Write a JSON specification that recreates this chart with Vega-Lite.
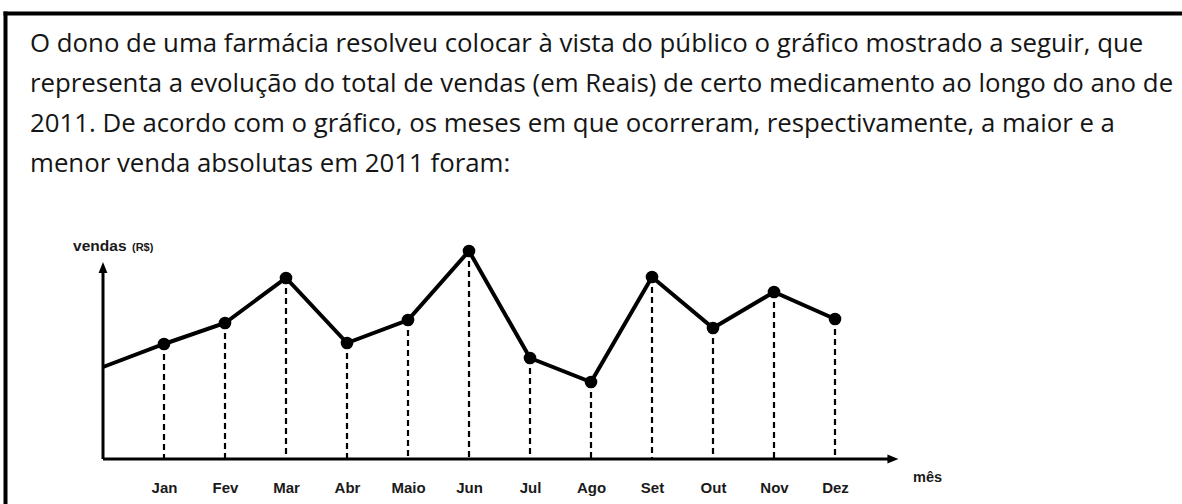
{
  "$schema": "https://vega.github.io/schema/vega-lite/v6.json",
  "width": 1177,
  "height": 491,
  "autosize": {"type": "none"},
  "padding": {"left": 5, "top": 13, "right": 0, "bottom": 0},
  "background": "white",
  "config": {"view": {"stroke": null}},
  "title": {
    "text": [
      "O dono de uma farmácia resolveu colocar à vista do público o gráfico mostrado a seguir, que",
      "representa a evolução do total de vendas (em Reais) de certo medicamento ao longo do ano de",
      "2011. De acordo com o gráfico, os meses em que ocorreram, respectivamente, a maior e a",
      "menor venda absolutas em 2011 foram:"
    ],
    "anchor": "start",
    "frame": "group",
    "orient": "top",
    "font": "Open Sans",
    "fontSize": 25.8,
    "fontWeight": 500,
    "color": "#151515",
    "lineHeight": 40,
    "baseline": "alphabetic",
    "offset": 0,
    "dx": 25,
    "dy": 185
  },
  "data": {
    "values": [
      {"mes": 0, "label": "", "vendas": 92},
      {"mes": 1, "label": "Jan", "vendas": 115},
      {"mes": 2, "label": "Fev", "vendas": 136},
      {"mes": 3, "label": "Mar", "vendas": 181},
      {"mes": 4, "label": "Abr", "vendas": 116},
      {"mes": 5, "label": "Maio", "vendas": 139},
      {"mes": 6, "label": "Jun", "vendas": 208},
      {"mes": 7, "label": "Jul", "vendas": 101},
      {"mes": 8, "label": "Ago", "vendas": 77},
      {"mes": 9, "label": "Set", "vendas": 182},
      {"mes": 10, "label": "Out", "vendas": 131},
      {"mes": 11, "label": "Nov", "vendas": 167},
      {"mes": 12, "label": "Dez", "vendas": 140}
    ]
  },
  "resolve": {"axis": {"x": "independent", "y": "independent"}},
  "layer": [
    {
      "transform": [{"filter": "datum.mes >= 1"}],
      "mark": {"type": "rule", "color": "black", "strokeWidth": 2.2, "strokeDash": [6, 4]},
      "encoding": {
        "x": {"field": "mes", "type": "quantitative", "scale": {"domain": [-1.6066, 17.6885], "nice": false, "zero": false}, "axis": null},
        "y": {"field": "vendas", "type": "quantitative", "scale": {"domain": [-45, 446], "nice": false, "zero": false}, "axis": null},
        "y2": {"datum": 0}
      }
    },
    {
      "data": {"values": [{}]},
      "mark": {"type": "rule", "color": "black", "strokeWidth": 3},
      "encoding": {
        "x": {"datum": 0, "type": "quantitative", "scale": {"domain": [-1.6066, 17.6885], "nice": false, "zero": false}, "axis": null},
        "x2": {"datum": 12.95},
        "y": {"datum": 0, "type": "quantitative", "scale": {"domain": [-45, 446], "nice": false, "zero": false}, "axis": null}
      }
    },
    {
      "data": {"values": [{}]},
      "mark": {"type": "rule", "color": "black", "strokeWidth": 3},
      "encoding": {
        "x": {"datum": 0, "type": "quantitative", "scale": {"domain": [-1.6066, 17.6885], "nice": false, "zero": false}, "axis": null},
        "y": {"datum": 0, "type": "quantitative", "scale": {"domain": [-45, 446], "nice": false, "zero": false}, "axis": null},
        "y2": {"datum": 191.5}
      }
    },
    {
      "data": {"values": [{}]},
      "mark": {"type": "point", "shape": "M1,0L-1,-0.8L-1,0.8Z", "filled": true, "color": "black", "opacity": 1, "size": 121},
      "encoding": {
        "x": {"datum": 12.95, "type": "quantitative", "scale": {"domain": [-1.6066, 17.6885], "nice": false, "zero": false}, "axis": null},
        "y": {"datum": 0, "type": "quantitative", "scale": {"domain": [-45, 446], "nice": false, "zero": false}, "axis": null}
      }
    },
    {
      "data": {"values": [{}]},
      "mark": {"type": "point", "shape": "M0,-1L0.8,1L-0.8,1Z", "filled": true, "color": "black", "opacity": 1, "size": 121},
      "encoding": {
        "x": {"datum": 0, "type": "quantitative", "scale": {"domain": [-1.6066, 17.6885], "nice": false, "zero": false}, "axis": null},
        "y": {"datum": 191.5, "type": "quantitative", "scale": {"domain": [-45, 446], "nice": false, "zero": false}, "axis": null}
      }
    },
    {
      "mark": {"type": "line", "color": "black", "strokeWidth": 4, "strokeJoin": "miter"},
      "encoding": {
        "x": {"field": "mes", "type": "quantitative", "scale": {"domain": [-1.6066, 17.6885], "nice": false, "zero": false},
              "axis": {"orient": "top", "domain": true, "domainColor": "black", "domainWidth": 4, "domainCap": "square", "ticks": false, "labels": false, "grid": false, "title": null}},
        "y": {"field": "vendas", "type": "quantitative", "scale": {"domain": [-45, 446], "nice": false, "zero": false},
              "axis": {"orient": "left", "domain": true, "domainColor": "black", "domainWidth": 4, "domainCap": "square", "ticks": false, "labels": false, "grid": false, "title": null}}
      }
    },
    {
      "transform": [{"filter": "datum.mes >= 1"}],
      "mark": {"type": "point", "shape": "circle", "filled": true, "color": "black", "opacity": 1, "size": 160},
      "encoding": {
        "x": {"field": "mes", "type": "quantitative", "scale": {"domain": [-1.6066, 17.6885], "nice": false, "zero": false},
              "axis": {"orient": "bottom", "offset": -45, "values": [1,2,3,4,5,6,7,8,9,10,11,12],
                       "labelExpr": "['','Jan','Fev','Mar','Abr','Maio','Jun','Jul','Ago','Set','Out','Nov','Dez'][datum.value]",
                       "domain": false, "ticks": false, "tickSize": 0, "grid": false, "title": null,
                       "labelFont": "Liberation Sans", "labelFontSize": 15, "labelFontWeight": "bold", "labelColor": "#1a1a1a",
                       "labelBaseline": "alphabetic", "labelPadding": 33, "labelFlush": false, "labelOverlap": false}},
        "y": {"field": "vendas", "type": "quantitative", "scale": {"domain": [-45, 446], "nice": false, "zero": false}, "axis": null}
      }
    },
    {
      "data": {"values": [{}]},
      "mark": {"type": "text", "align": "left", "baseline": "alphabetic", "font": "Liberation Sans", "fontSize": 15.5, "fontWeight": "bold", "color": "#1a1a1a", "text": "vendas"},
      "encoding": {
        "x": {"datum": -0.49, "type": "quantitative", "scale": {"domain": [-1.6066, 17.6885], "nice": false, "zero": false}, "axis": null},
        "y": {"datum": 208, "type": "quantitative", "scale": {"domain": [-45, 446], "nice": false, "zero": false}, "axis": null}
      }
    },
    {
      "data": {"values": [{}]},
      "mark": {"type": "text", "align": "left", "baseline": "alphabetic", "font": "Liberation Sans", "fontSize": 11, "fontWeight": "bold", "color": "#1a1a1a", "text": "(R$)"},
      "encoding": {
        "x": {"datum": 0.475, "type": "quantitative", "scale": {"domain": [-1.6066, 17.6885], "nice": false, "zero": false}, "axis": null},
        "y": {"datum": 208, "type": "quantitative", "scale": {"domain": [-45, 446], "nice": false, "zero": false}, "axis": null}
      }
    },
    {
      "data": {"values": [{}]},
      "mark": {"type": "text", "align": "left", "baseline": "alphabetic", "font": "Liberation Sans", "fontSize": 14.5, "fontWeight": "bold", "color": "#1a1a1a", "text": "mês"},
      "encoding": {
        "x": {"datum": 13.28, "type": "quantitative", "scale": {"domain": [-1.6066, 17.6885], "nice": false, "zero": false}, "axis": null},
        "y": {"datum": -23, "type": "quantitative", "scale": {"domain": [-45, 446], "nice": false, "zero": false}, "axis": null}
      }
    }
  ]
}
